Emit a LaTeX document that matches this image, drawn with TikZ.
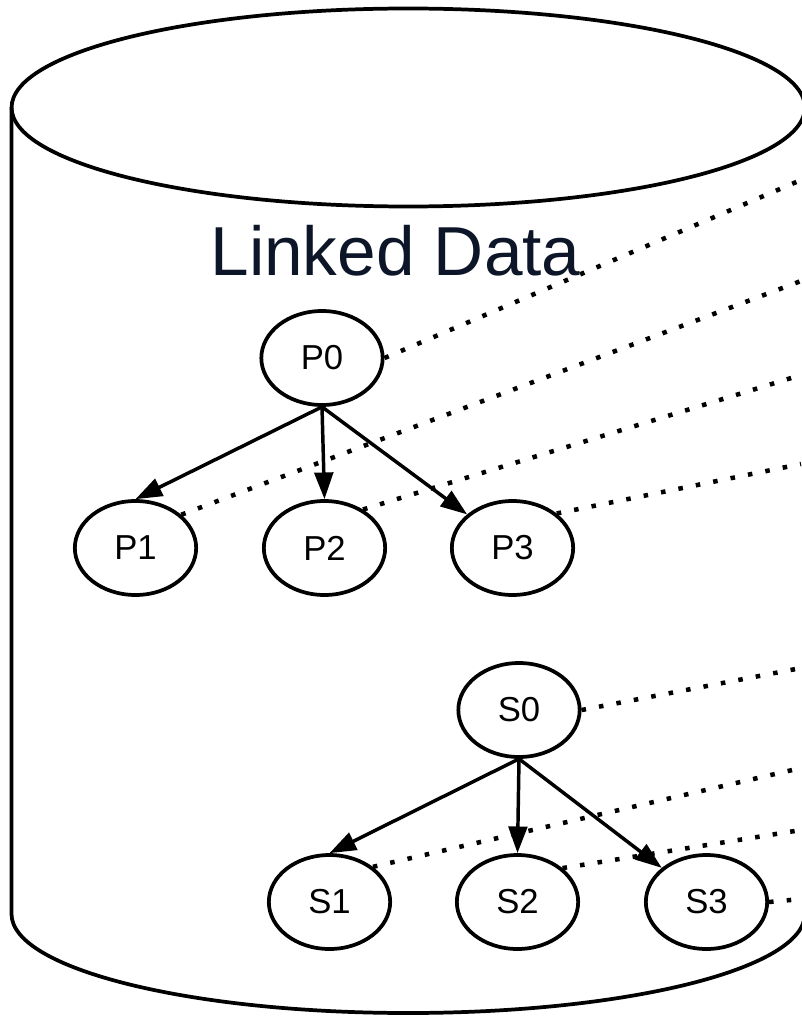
\documentclass[tikz,border=0pt]{standalone}
\usepackage{fontspec}
\setmainfont{Liberation Sans}
\usetikzlibrary{shapes.geometric,arrows.meta}
\definecolor{titleblue}{RGB}{13,22,40}

\begin{document}
\begin{tikzpicture}[
    x=0.75pt, y=-0.75pt,
    item/.style={ellipse, draw=black, line width=2.8pt, fill=white,
        minimum width=91pt, minimum height=70.5pt, inner sep=0pt,
        font=\fontsize{26}{30}\selectfont},
    link/.style={line width=2.6pt, -{Triangle[length=20pt,width=14pt]}},
    same/.style={line width=3.4pt, dash pattern=on 3.4pt off 9.9pt}
]
    \useasboundingbox (0,0) rectangle (801,1016);
    % the store
    \draw[line width=2.8pt] (11.5,107.5) -- (11.5,914)
        arc[start angle=180, end angle=360, x radius=297.5pt, y radius=74.25pt]
        -- (805,107.5);
    \draw[line width=2.8pt] (408.25,107.5) ellipse[x radius=297.5pt, y radius=74.25pt];
    \node[font=\fontsize{52}{60}\selectfont, text=titleblue, anchor=base] (title) at (395.5,275) {Linked Data};
    \node[item] (p0) at (322,358) {P0};
    \node[item] (p1) at (135.5,548) {P1};
    \node[item] (p2) at (324.5,548) {P2};
    \node[item] (p3) at (512.5,548) {P3};
    \node[item] (s0) at (519,710) {S0};
    \node[item] (s1) at (329.5,902) {S1};
    \node[item] (s2) at (517.5,902) {S2};
    \node[item] (s3) at (706.5,902) {S3};
    \draw[link] (p0.south) -- (p1.north);
    \draw[link] (p0.south) -- (p2.north);
    \draw[link] (p0.south) -- (p3);
    \draw[link] (s0.south) -- (s1.north);
    \draw[link] (s0.south) -- (s2.north);
    \draw[link] (s0.south) -- (s3);
    % links leaving the store
    \coordinate (out0) at (801,180);
    \coordinate (out1) at (801,281);
    \coordinate (out2) at (801,375);
    \coordinate (out3) at (801,464);
    \coordinate (out4) at (801,668);
    \coordinate (out5) at (801,768);
    \coordinate (out6) at (801,830);
    \coordinate (out7) at (801,899);
    \draw[same] (p0.east) -- (out0);
    \draw[same] (p1.36) -- (out1);
    \draw[same] (p2.45) -- (out2);
    \draw[same] (p3.38) -- (out3);
    \draw[same] (s0.east) -- (out4);
    \draw[same] (s1.39) -- (out5);
    \draw[same] (s2.37) -- (out6);
    \draw[same] (s3.east) -- (out7);
\end{tikzpicture}
\end{document}
